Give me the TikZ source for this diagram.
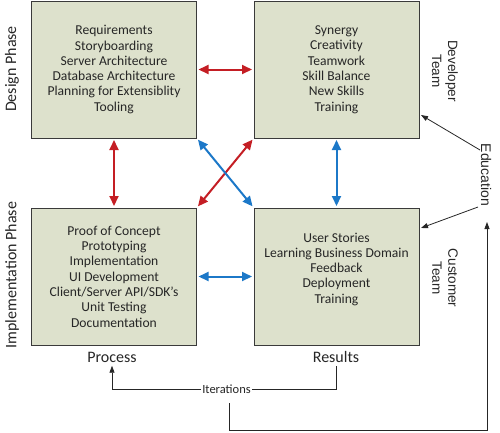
\documentclass[tikz,border=0pt]{standalone}
\usepackage{fontspec}
\setmainfont{Carlito}
\newfontfamily\arialf{Liberation Sans}
\usetikzlibrary{arrows.meta}
\definecolor{boxfill}{HTML}{DDE1CC}
\definecolor{boxline}{HTML}{3A3A3A}
\definecolor{myred}{HTML}{C41E24}
\definecolor{myblue}{HTML}{1C78C8}
\definecolor{txt}{HTML}{262626}
\tikzset{
  box/.style={draw=boxline, line width=1pt, fill=boxfill, minimum width=165pt, minimum height=137pt,
    inner sep=0pt, align=center, text=txt, font=\fontsize{13.6}{15.3}\selectfont},
  biarrow/.style={line width=2pt, {Triangle[length=10pt,width=9pt]}-{Triangle[length=10pt,width=9pt]},
    shorten <=1.5pt, shorten >=1.5pt},
  phase/.style={rotate=90, font=\fontsize{16}{19}\selectfont, text=txt},
  team/.style={rotate=-90, align=center, font=\arialf\fontsize{13.5}{16}\selectfont, text=txt},
  caption/.style={font=\fontsize{16}{19}\selectfont, text=txt},
  thin/.style={line width=0.8pt, draw=txt},
  thinarrow/.style={thin, -{Triangle[length=7pt,width=5pt]}}
}
\begin{document}
\begin{tikzpicture}[x=1pt,y=-1pt]
\useasboundingbox (0,0) rectangle (500,432);
\node[box] (tl) at (114,69.5) {Requirements\\Storyboarding\\Server Architecture\\Database Architecture\\Planning for Extensiblity\\Tooling};
\node[box] (tr) at (336.5,69.5) {Synergy\\Creativity\\Teamwork\\Skill Balance\\New Skills\\Training};
\node[box] (bl) at (114,276.5) {Proof of Concept\\Prototyping\\Implementation\\UI Development\\Client/Server API/SDK’s\\Unit Testing\\Documentation};
\node[box, text depth=17pt] (br) at (336.5,276.5) {User Stories\\Learning Business Domain\\Feedback\\Deployment\\Training};

\node[phase] (design) at (12,69) {Design Phase};
\node[phase] (impl) at (12,275) {Implementation Phase};
\node[team] (dev) at (445,71) {Developer\\Team};
\node[team] (cust) at (445,278) {Customer\\Team};
\node[team, font=\arialf\fontsize{14}{16}\selectfont] (edu) at (486,175) {Education};

\node[caption] (process) at (112,357) {Process};
\node[caption] (results) at (336,357) {Results};
\node[font=\fontsize{12.5}{15}\selectfont, text=txt, inner sep=1pt] (iter) at (226.5,389) {Iterations};

% coloured arrows
\draw[biarrow, myred] (tl.east) -- (tr.west);
\draw[biarrow, myred] (tl.south) -- (bl.north);
\draw[biarrow, myred] (bl.north east) -- (tr.south west);
\draw[biarrow, myblue] (tl.south east) -- (br.north west);
\draw[biarrow, myblue] (tr.south) -- (br.north);
\draw[biarrow, myblue] (bl.east) -- (br.west);

% education arrows
\coordinate (e1) at (480,150);
\coordinate (e2) at (478,207);
\coordinate (trin) at (421,115);
\coordinate (brin) at (421,228);
\draw[thinarrow] (e1) -- (trin);
\draw[thinarrow] (e2) -- (brin);

% iterations
\draw[thin] (results.south) |- (iter.east);
\draw[thinarrow] (iter.west) -| (process.south);

\coordinate (b0) at (229,403);
\coordinate (eduin) at (487,222);
\draw[thinarrow] (b0) -- (229,430) -| (eduin);
\end{tikzpicture}
\end{document}
